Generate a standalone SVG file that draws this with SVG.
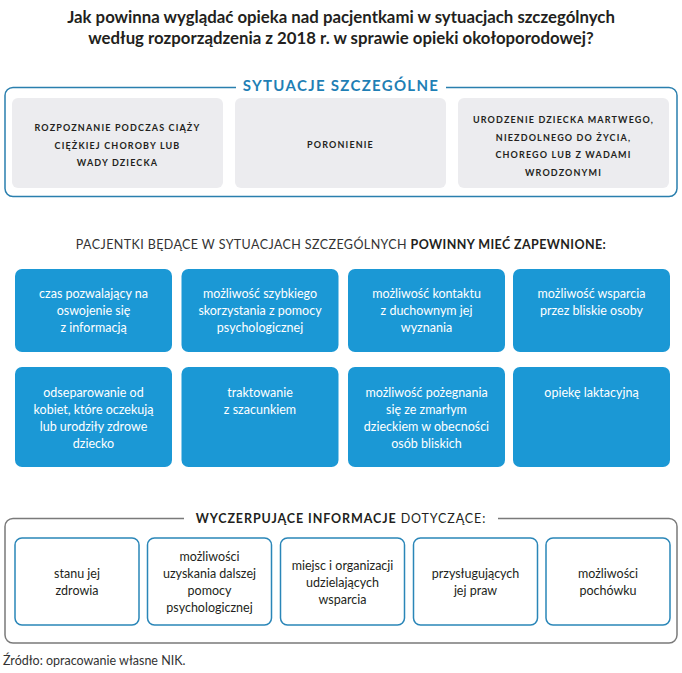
<svg xmlns="http://www.w3.org/2000/svg" width="682" height="673" viewBox="0 0 682 673">
<style>
text{font-family:Lato,"Liberation Sans",sans-serif;text-anchor:middle}
.title{font-size:16.8px;font-weight:bold;fill:#231f20}
.gray{fill:#ececef}
.cap{font-size:9px;font-weight:bold;letter-spacing:1.15px;fill:#231f20}
.blue{fill:#1b98d5}
.wt{font-size:12.5px;fill:#ffffff}
.wbox{fill:#ffffff;stroke:#2a86b8;stroke-width:1.5}
.bt{font-size:12.5px;fill:#231f20}
.head{font-size:12.5px;fill:#333333;letter-spacing:0.4px}
</style>
<rect width="682" height="673" fill="#ffffff"/>
<g id="title">
<text class="title" x="341" y="23">Jak powinna wyglądać opieka nad pacjentkami w sytuacjach szczególnych</text>
<text class="title" x="341" y="43.5">według rozporządzenia z 2018 r. w sprawie opieki okołoporodowej?</text>
</g>
<g id="sytuacje">
<rect x="5" y="87.5" width="672" height="109" rx="8" fill="none" stroke="#2a7fae" stroke-width="1.5"/>
<rect x="236" y="80" width="210" height="14" fill="#ffffff"/>
<text x="341" y="91" style="font-size:15px;font-weight:bold;fill:#1f7fb5;letter-spacing:1.3px">SYTUACJE SZCZEGÓLNE</text>
</g>
<g id="s1">
<rect class="gray" x="12" y="98" width="211" height="90" rx="6"/>
<text class="cap" x="117.5" y="131">ROZPOZNANIE PODCZAS CIĄŻY</text>
<text class="cap" x="117.5" y="148.5">CIĘŻKIEJ CHOROBY LUB</text>
<text class="cap" x="117.5" y="166">WADY DZIECKA</text>
</g>
<g id="s2">
<rect class="gray" x="235" y="98" width="211" height="90" rx="6"/>
<text class="cap" x="340.5" y="148">PORONIENIE</text>
</g>
<g id="s3">
<rect class="gray" x="458" y="98" width="211" height="90" rx="6"/>
<text class="cap" x="563.5" y="123">URODZENIE DZIECKA MARTWEGO,</text>
<text class="cap" x="563.5" y="140.5">NIEZDOLNEGO DO ŻYCIA,</text>
<text class="cap" x="563.5" y="158">CHOREGO LUB Z WADAMI</text>
<text class="cap" x="563.5" y="175.5">WRODZONYMI</text>
</g>
<g id="heading">
<text class="head" x="341" y="249">PACJENTKI BĘDĄCE W SYTUACJACH SZCZEGÓLNYCH <tspan font-weight="bold" fill="#231f20">POWINNY MIEĆ ZAPEWNIONE:</tspan></text>
</g>
<g id="b1">
<rect class="blue" x="15" y="269" width="157" height="83" rx="7"/>
<text class="wt" x="93.5" y="298">czas pozwalający na</text>
<text class="wt" x="93.5" y="315">oswojenie się</text>
<text class="wt" x="93.5" y="332">z informacją</text>
</g>
<g id="b2">
<rect class="blue" x="181.5" y="269" width="157" height="83" rx="7"/>
<text class="wt" x="260" y="298">możliwość szybkiego</text>
<text class="wt" x="260" y="315">skorzystania z pomocy</text>
<text class="wt" x="260" y="332">psychologicznej</text>
</g>
<g id="b3">
<rect class="blue" x="348" y="269" width="157" height="83" rx="7"/>
<text class="wt" x="426.5" y="298">możliwość kontaktu</text>
<text class="wt" x="426.5" y="315">z duchownym jej</text>
<text class="wt" x="426.5" y="332">wyznania</text>
</g>
<g id="b4">
<rect class="blue" x="513" y="269" width="157" height="83" rx="7"/>
<text class="wt" x="591.5" y="298">możliwość wsparcia</text>
<text class="wt" x="591.5" y="315">przez bliskie osoby</text>
</g>
<g id="b5">
<rect class="blue" x="15" y="367" width="157" height="100" rx="7"/>
<text class="wt" x="93.5" y="397">odseparowanie od</text>
<text class="wt" x="93.5" y="414">kobiet, które oczekują</text>
<text class="wt" x="93.5" y="431">lub urodziły zdrowe</text>
<text class="wt" x="93.5" y="448">dziecko</text>
</g>
<g id="b6">
<rect class="blue" x="181.5" y="367" width="157" height="100" rx="7"/>
<text class="wt" x="260" y="397">traktowanie</text>
<text class="wt" x="260" y="414">z szacunkiem</text>
</g>
<g id="b7">
<rect class="blue" x="348" y="367" width="157" height="100" rx="7"/>
<text class="wt" x="426.5" y="397">możliwość pożegnania</text>
<text class="wt" x="426.5" y="414">się ze zmarłym</text>
<text class="wt" x="426.5" y="431">dzieckiem w obecności</text>
<text class="wt" x="426.5" y="448">osób bliskich</text>
</g>
<g id="b8">
<rect class="blue" x="513" y="367" width="157" height="100" rx="7"/>
<text class="wt" x="591.5" y="397">opiekę laktacyjną</text>
</g>
<g id="informacje">
<rect x="5" y="518.5" width="672" height="124.5" rx="8" fill="none" stroke="#7a7a7a" stroke-width="1.5"/>
<rect x="184" y="512" width="314" height="14" fill="#ffffff"/>
<text x="341" y="523" style="font-size:12.5px;fill:#231f20;letter-spacing:0.9px"><tspan font-weight="bold">WYCZERPUJĄCE INFORMACJE</tspan> DOTYCZĄCE:</text>
</g>
<g id="w1">
<rect class="wbox" x="15" y="538" width="124" height="87" rx="7"/>
<text class="bt" x="77" y="578">stanu jej</text>
<text class="bt" x="77" y="595">zdrowia</text>
</g>
<g id="w2">
<rect class="wbox" x="147.5" y="538" width="124" height="87" rx="7"/>
<text class="bt" x="209.5" y="561">możliwości</text>
<text class="bt" x="209.5" y="578">uzyskania dalszej</text>
<text class="bt" x="209.5" y="595">pomocy</text>
<text class="bt" x="209.5" y="612">psychologicznej</text>
</g>
<g id="w3">
<rect class="wbox" x="280.5" y="538" width="124" height="87" rx="7"/>
<text class="bt" x="342.5" y="569.5">miejsc i organizacji</text>
<text class="bt" x="342.5" y="586.5">udzielających</text>
<text class="bt" x="342.5" y="603.5">wsparcia</text>
</g>
<g id="w4">
<rect class="wbox" x="413.5" y="538" width="124" height="87" rx="7"/>
<text class="bt" x="475.5" y="578">przysługujących</text>
<text class="bt" x="475.5" y="595">jej praw</text>
</g>
<g id="w5">
<rect class="wbox" x="546" y="538" width="124" height="87" rx="7"/>
<text class="bt" x="608" y="578">możliwości</text>
<text class="bt" x="608" y="595">pochówku</text>
</g>
<g id="connectors"></g>
<text x="3" y="665" style="text-anchor:start;font-size:12.5px;fill:#333333">Źródło: opracowanie własne NIK.</text>
</svg>
